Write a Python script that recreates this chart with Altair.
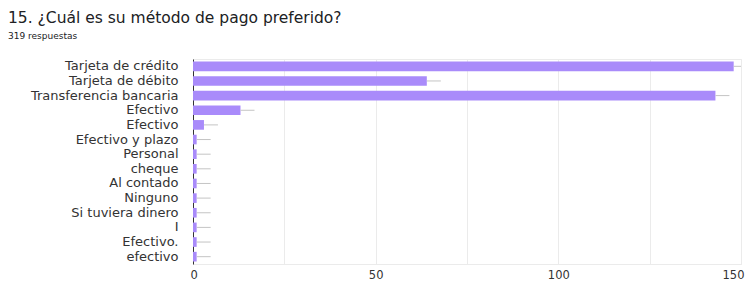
import json
import altair as alt
import pandas as pd

labels = ["Tarjeta de crédito", "Tarjeta de débito", "Transferencia bancaria", "Efectivo",
          "Efectivo", "Efectivo y plazo", "Personal", "cheque", "Al contado", "Ninguno",
          "Si tuviera dinero", "I", "Efectivo.", "efectivo"]
values = [148, 64, 143, 13, 3, 1, 1, 1, 1, 1, 1, 1, 1, 1]
x_ticks = [0, 25, 50, 75, 100, 125, 150]

df = pd.DataFrame({"idx": list(range(len(labels))), "label": labels, "value": values})

FONT = "DejaVu Sans"
label_expr = json.dumps(labels, ensure_ascii=False) + "[datum.value]"

y_enc = alt.Y("idx:O", sort=None, title=None,
              scale=alt.Scale(paddingInner=0.34, paddingOuter=0.17),
              axis=alt.Axis(labelExpr=label_expr, ticks=False, labelPadding=15,
                            domainColor="#333333", labelColor="#333333",
                            labelFontSize=13, labelFont=FONT))
x_enc = alt.X("value:Q", title=None,
              scale=alt.Scale(domain=[0, 150], nice=False),
              axis=alt.Axis(values=x_ticks, ticks=False, gridColor="#ebebeb",
                            domainColor="#ebebeb", labelColor="#333333",
                            labelFontSize=11.5, labelFont=FONT, labelPadding=5,
                            labelFlush=True, labelFlushOffset=3,
                            labelExpr="datum.value % 50 == 0 ? datum.label : ''"))

bars = alt.Chart(df).mark_bar(color="#a98bfa").encode(x=x_enc, y=y_enc)
leaders = alt.Chart(df).mark_rule(color="#c4c4c4", strokeWidth=1, x2Offset=14, clip=True).encode(
    x="value:Q", x2="value:Q", y=alt.Y("idx:O", sort=None, bandPosition=0.5))

chart = alt.layer(bars, leaders).properties(
    width=548, height=205,
    autosize=alt.AutoSizeParams(type="none"),
    padding={"left": 185, "top": 51, "right": 4, "bottom": 18},
    title=alt.Title("15. ¿Cuál es su método de pago preferido?",
                    subtitle="319 respuestas", anchor="start", frame="group",
                    dx=-185, offset=18, font=FONT, fontSize=15.5, fontWeight="normal",
                    color="#202124", subtitleFont=FONT, subtitleFontSize=9,
                    subtitleColor="#202124", subtitlePadding=6),
).configure_view(stroke="#ebebeb")

chart.save("out.html", embed_options={"renderer": "svg", "actions": False})
